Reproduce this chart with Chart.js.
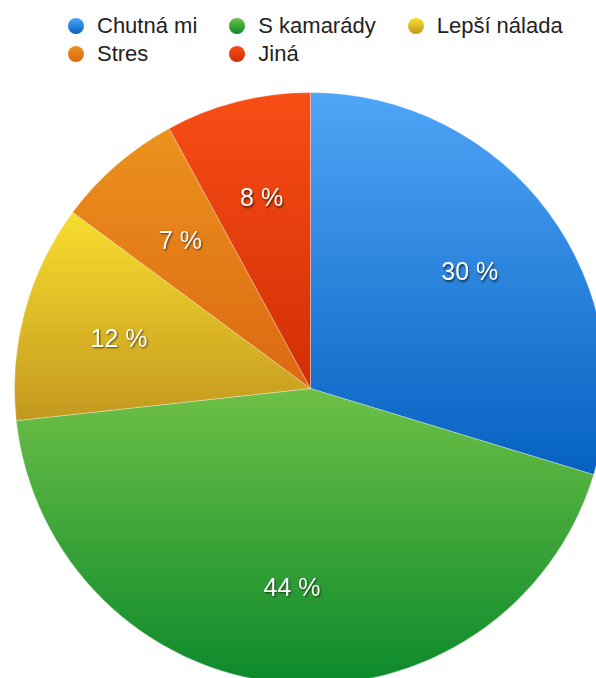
<!DOCTYPE html>
<html lang="cs">
<head>
<meta charset="utf-8">
<title>Proč jím sladkosti</title>
<script src="https://cdn.jsdelivr.net/npm/chart.js@4/dist/chart.umd.min.js"></script>
<style>
  html, body {
    margin: 0;
    padding: 0;
    width: 596px;
    height: 678px;
    overflow: hidden;
    background: #ffffff;
    font-family: "Liberation Sans", Arial, sans-serif;
  }
  #legend {
    position: absolute;
    left: 68px;
    top: 12px;
    display: grid;
    grid-template-columns: repeat(3, auto);
    column-gap: 32px;
    font-size: 22px;
    line-height: 28px;
    color: #222222;
  }
  #legend .item {
    display: flex;
    align-items: center;
    white-space: nowrap;
  }
  #legend .dot {
    width: 16px;
    height: 16px;
    border-radius: 50%;
    margin-right: 13px;
    flex: none;
  }
  #pie-box {
    position: absolute;
    left: 14px;
    top: 92px;
    width: 593px;
    height: 593px;
  }
</style>
</head>
<body>
<div id="legend"></div>
<div id="pie-box"><canvas id="pie"></canvas></div>
<script>
// Reasons answered in the survey and their shares (percent)
const categories = ['Chutná mi', 'S kamarády', 'Lepší nálada', 'Stres', 'Jiná'];
const shares = [30, 44, 12, 7, 8];
// Top and bottom colour of each slice's vertical gradient
const topColors = ['#4fa5f6', '#6ec046', '#f8de2e', '#ec921d', '#f84e15'];
const bottomColors = ['#0561c1', '#0b892b', '#c3981f', '#dc6812', '#d12e06'];

// Vertical gradient spanning the slice's own height
function sliceGradient(ctx) {
  const chart = ctx.chart;
  const area = chart.chartArea;
  const i = ctx.dataIndex;
  if (!area) return topColors[i];
  const values = ctx.dataset.data;
  const total = values.reduce((a, b) => a + b, 0);
  const before = values.slice(0, i).reduce((a, b) => a + b, 0);
  const start = -Math.PI / 2 + before / total * 2 * Math.PI;
  const end = start + values[i] / total * 2 * Math.PI;
  const cx = (area.left + area.right) / 2;
  const cy = (area.top + area.bottom) / 2;
  const r = Math.min(area.width, area.height) / 2;
  const ys = [cy, cy + r * Math.sin(start), cy + r * Math.sin(end)];
  const inRange = (a) => {
    let t = a;
    while (t < start) t += 2 * Math.PI;
    return t <= end;
  };
  if (inRange(Math.PI / 2)) ys.push(cy + r);
  if (inRange(-Math.PI / 2)) ys.push(cy - r);
  const y0 = Math.min(...ys), y1 = Math.max(...ys);
  const g = chart.ctx.createLinearGradient(0, y0, 0, y1);
  g.addColorStop(0, topColors[i]);
  g.addColorStop(1, bottomColors[i]);
  return g;
}

// Percent labels inside the slices, white with a soft dark shadow
const sliceLabels = {
  id: 'sliceLabels',
  afterDatasetsDraw(chart) {
    const ctx = chart.ctx;
    const meta = chart.getDatasetMeta(0);
    const data = chart.data.datasets[0].data;
    ctx.save();
    ctx.font = '25px "Liberation Sans", Arial, sans-serif';
    ctx.textAlign = 'center';
    ctx.textBaseline = 'middle';
    ctx.fillStyle = '#ffffff';
    ctx.shadowColor = 'rgba(0,0,0,0.6)';
    ctx.shadowOffsetX = 1;
    ctx.shadowOffsetY = 1.5;
    ctx.shadowBlur = 2;
    meta.data.forEach((arc, i) => {
      const p = arc.getProps(['x', 'y', 'startAngle', 'endAngle', 'outerRadius'], true);
      const mid = (p.startAngle + p.endAngle) / 2;
      const d = p.outerRadius * 0.67;
      ctx.fillText(data[i] + ' %', p.x + Math.cos(mid) * d, p.y + Math.sin(mid) * d + 3);
    });
    ctx.restore();
  }
};

const chart = new Chart(document.getElementById('pie'), {
  type: 'pie',
  data: {
    labels: categories,
    datasets: [{
      data: shares,
      backgroundColor: sliceGradient,
      borderColor: 'rgba(255,255,255,0.3)',
      borderWidth: 1
    }]
  },
  options: {
    responsive: true,
    maintainAspectRatio: false,
    animation: false,
    layout: { padding: 0 },
    plugins: {
      legend: { display: false },
      tooltip: { enabled: false }
    }
  },
  plugins: [sliceLabels]
});

// Legend built from the chart's own labels
const legendEl = document.getElementById('legend');
chart.data.labels.forEach((label, i) => {
  const item = document.createElement('div');
  item.className = 'item';
  const dot = document.createElement('span');
  dot.className = 'dot';
  dot.style.background = 'linear-gradient(' + topColors[i] + ', ' + bottomColors[i] + ')';
  const text = document.createElement('span');
  text.textContent = label;
  item.appendChild(dot);
  item.appendChild(text);
  legendEl.appendChild(item);
});
</script>
</body>
</html>
